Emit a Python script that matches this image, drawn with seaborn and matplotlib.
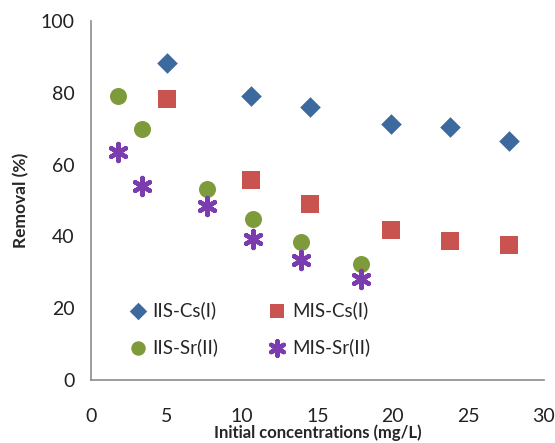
import pandas as pd
import numpy as np
import matplotlib.pyplot as plt
import seaborn as sns

# values
series_names = ['IIS-Cs(I)', 'MIS-Cs(I)', 'IIS-Sr(II)', 'MIS-Sr(II)']
cs_conc = [5.0, 10.6, 14.5, 19.9, 23.8, 27.7]
iis_cs = [88.3, 79.1, 76.0, 71.3, 70.5, 66.6]
mis_cs = [78.3, 55.7, 49.0, 41.8, 38.7, 37.6]
sr_conc = [1.8, 3.4, 7.7, 10.7, 13.9, 17.9]
iis_sr = [79.1, 69.9, 53.2, 44.8, 38.4, 32.3]
mis_sr = [63.5, 54.0, 48.5, 39.3, 33.4, 28.1]

df = pd.concat([
    pd.DataFrame({'conc': cs_conc, 'removal': iis_cs, 'series': series_names[0]}),
    pd.DataFrame({'conc': cs_conc, 'removal': mis_cs, 'series': series_names[1]}),
    pd.DataFrame({'conc': sr_conc, 'removal': iis_sr, 'series': series_names[2]}),
    pd.DataFrame({'conc': sr_conc, 'removal': mis_sr, 'series': series_names[3]}),
])

sns.set_style('white')
plt.rcParams['font.family'] = ['Lato', 'DejaVu Sans']

colors = ['#3D6A9E', '#C9544F', '#7E9B3C', '#7A3CAE']
markers = ['D', 's', 'o', (6, 2, 0)]
sizes = [110, 150, 150, 150]

fig = plt.figure(figsize=(5.55, 4.43), dpi=100)
ax = fig.add_axes([0.164, 0.142, 0.816, 0.811])

for name, c, m, s in zip(series_names, colors, markers, sizes):
    sub = df[df['series'] == name]
    if m == (6, 2, 0):
        sns.scatterplot(data=sub, x='conc', y='removal', ax=ax, color=c,
                        marker=m, s=s, linewidth=3.2, edgecolor=c, label=name)
    else:
        sns.scatterplot(data=sub, x='conc', y='removal', ax=ax, color=c,
                        marker=m, s=s, linewidth=0, label=name)

ax.set_xlim(0, 30)
ax.set_ylim(0, 100)
ax.set_xticks(np.arange(0, 31, 5))
ax.set_xticks(np.arange(0, 31, 2.5), minor=True)
ax.set_yticks(np.arange(0, 101, 20))
ax.set_yticks(np.arange(0, 101, 10), minor=True)

for side in ['top', 'right']:
    ax.spines[side].set_visible(False)
for side in ['left', 'bottom']:
    ax.spines[side].set_color('#8C8C8C')
    ax.spines[side].set_linewidth(1.2)

ax.tick_params(axis='both', which='both', direction='in', color='#8C8C8C',
               length=7, width=1.2, labelsize=14, labelcolor='#222222')
ax.tick_params(axis='x', which='major', pad=20)
ax.tick_params(axis='y', which='major', pad=12)

ax.set_xlabel('Initial concentrations (mg/L)', fontsize=12, fontweight='bold', labelpad=0)
ax.set_ylabel('Removal (%)', fontsize=12.5, fontweight='bold', labelpad=8)

# legend rows: Cs series on top, Sr series below
handles, labels = ax.get_legend_handles_labels()
order = [0, 2, 1, 3]
ax.legend([handles[i] for i in order], [labels[i] for i in order], ncol=2,
          loc='lower left', bbox_to_anchor=(0.045, 0.02), frameon=False,
          fontsize=13.5, handlelength=1.0, handletextpad=0.3,
          columnspacing=2.6, labelspacing=1.0, markerscale=0.85)

fig.savefig('out.png', dpi=100)
